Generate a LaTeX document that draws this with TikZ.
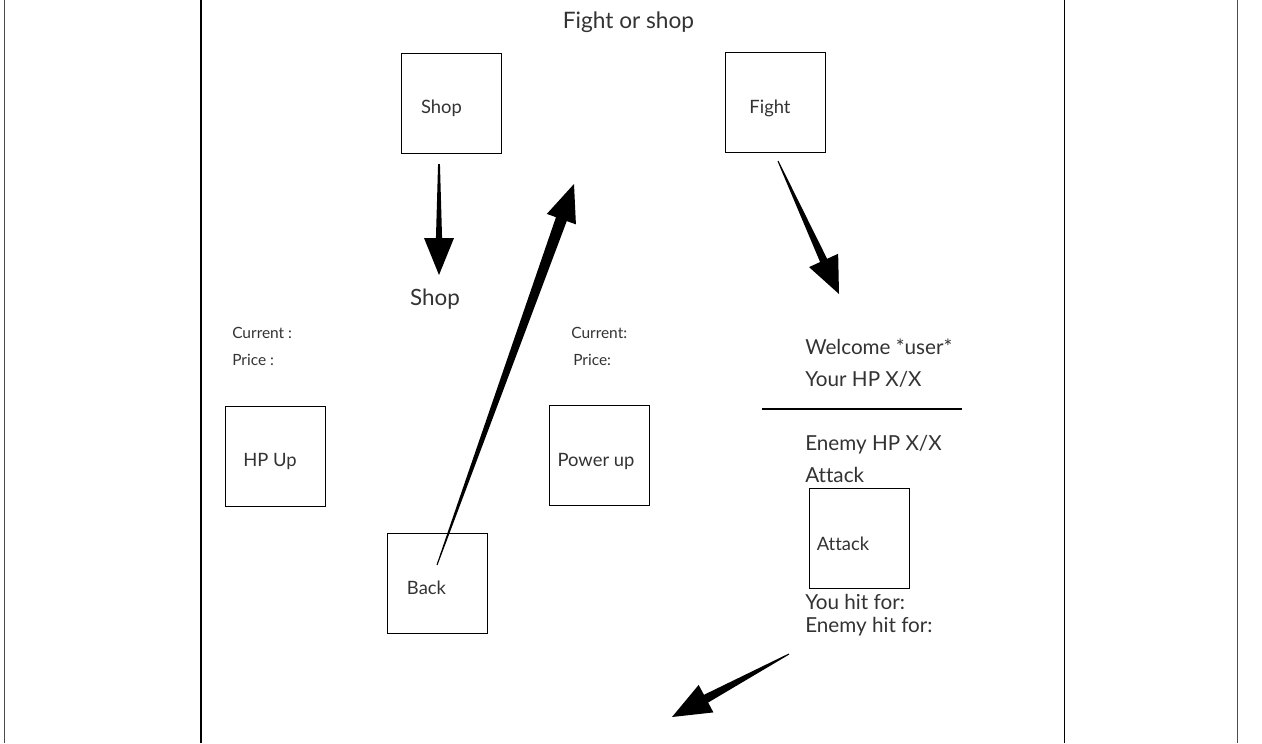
\documentclass[tikz,border=0pt]{standalone}
\usepackage{fontspec}
\setmainfont[Ligatures=NoCommon]{Lato}
\usetikzlibrary{calc}
\definecolor{txt}{HTML}{333333}
\tikzset{
  box/.style={draw=black, line width=0.75pt, minimum width=75pt, minimum height=75pt, inner sep=0pt, anchor=north west},
  boxtext/.style={text=txt, font=\fontsize{13.8}{16}\selectfont, inner sep=0pt, anchor=base},
  bigtext/.style={text=txt, font=\fontsize{15.5}{18}\selectfont, inner sep=0pt, anchor=base west},
  smalltext/.style={text=txt, font=\fontsize{11.6}{13}\selectfont, inner sep=0pt, anchor=base west},
  frame/.style={line width=1.1pt},
  arrowfill/.style={fill=black}
}
\newcommand{\taperarrow}[6]{%
  \coordinate (h) at ($(#2)!#5!(#1)$);
  \fill[arrowfill] ($(#1)!#3!90:(#2)$) -- ($(h)!#4!90:(#2)$) -- ($(h)!#6!90:(#2)$) -- (#2)
     -- ($(h)!#6!-90:(#2)$) -- ($(h)!#4!-90:(#2)$) -- ($(#1)!#3!-90:(#2)$) -- cycle;}
\begin{document}
\begin{tikzpicture}[x=0.75pt,y=-0.75pt]
\useasboundingbox (0,0) rectangle (1262,743);
\fill[white] (0,0) rectangle (1262,743);
% frame lines
\coordinate (l1t) at (4.5,0); \coordinate (l1b) at (4.5,743);
\coordinate (l2t) at (201,0); \coordinate (l2b) at (201,743);
\coordinate (l3t) at (1064.3,0); \coordinate (l3b) at (1064.3,743);
\coordinate (l4t) at (1237.3,0); \coordinate (l4b) at (1237.3,743);
\draw[frame, black!70] (l1t) -- (l1b);
\draw[frame] (l2t) -- (l2b);
\draw[frame] (l3t) -- (l3b);
\draw[frame, black!70] (l4t) -- (l4b);
% title
\node[bigtext, anchor=base, font=\fontsize{17}{20}\selectfont] (title) at (628.5,28) {Fight or shop};
% boxes
\node[box] (shopbox) at (401,53) {};
\node[boxtext] (shoptxt) at (441.5,113) {Shop};
\node[box] (fightbox) at (725,52) {};
\node[boxtext] (fighttxt) at (770,113) {Fight};
\node[box] (hpbox) at (225,406) {};
\node[boxtext] (hptxt) at (270,466) {HP Up};
\node[box] (powbox) at (549,405) {};
\node[boxtext] (powtxt) at (596,466) {Power up};
\node[box] (backbox) at (387,533) {};
\node[boxtext] (backtxt) at (426.5,594) {Back};
\node[box] (attbox) at (809,488) {};
\node[boxtext] (atttxt) at (843,550) {Attack};
% labels
\node[bigtext, anchor=base, font=\fontsize{16.8}{20}\selectfont] (shoplabel) at (435,305) {Shop};
\node[smalltext] (cur1) at (232,338) {Current :};
\node[smalltext] (pr1) at (232,365) {Price :};
\node[smalltext] (cur2) at (571,338) {Current:};
\node[smalltext] (pr2) at (573,365) {Price:};
\node[bigtext] (welcome) at (805,354) {Welcome *user*};
\node[bigtext] (yourhp) at (805,386) {Your HP X/X};
\coordinate (sepL) at (762,409); \coordinate (sepR) at (962,409);
\draw[line width=0.9pt] (sepL) -- (sepR);
\node[bigtext] (enemyhp) at (805,450) {Enemy HP X/X};
\node[bigtext] (attack) at (805,482) {Attack};
\node[bigtext] (youhit) at (805,609) {You hit for:};
\node[bigtext] (enemyhit) at (805,632) {Enemy hit for:};
% arrows
\coordinate (a1s) at (439,164); \coordinate (a1t) at (439,275);
\taperarrow{a1s}{a1t}{0.7pt}{2.3pt}{27.75pt}{11.25pt}
\coordinate (a2s) at (437,565); \coordinate (a2t) at (574,184);
\taperarrow{a2s}{a2t}{0.4pt}{4.3pt}{28pt}{11.6pt}
\coordinate (a3s) at (778,161); \coordinate (a3t) at (839,294);
\taperarrow{a3s}{a3t}{0.4pt}{2.9pt}{27.7pt}{12pt}
\coordinate (a4s) at (789,654); \coordinate (a4t) at (672,717);
\taperarrow{a4s}{a4t}{0.4pt}{3.3pt}{29pt}{11.7pt}
\end{tikzpicture}
\end{document}
